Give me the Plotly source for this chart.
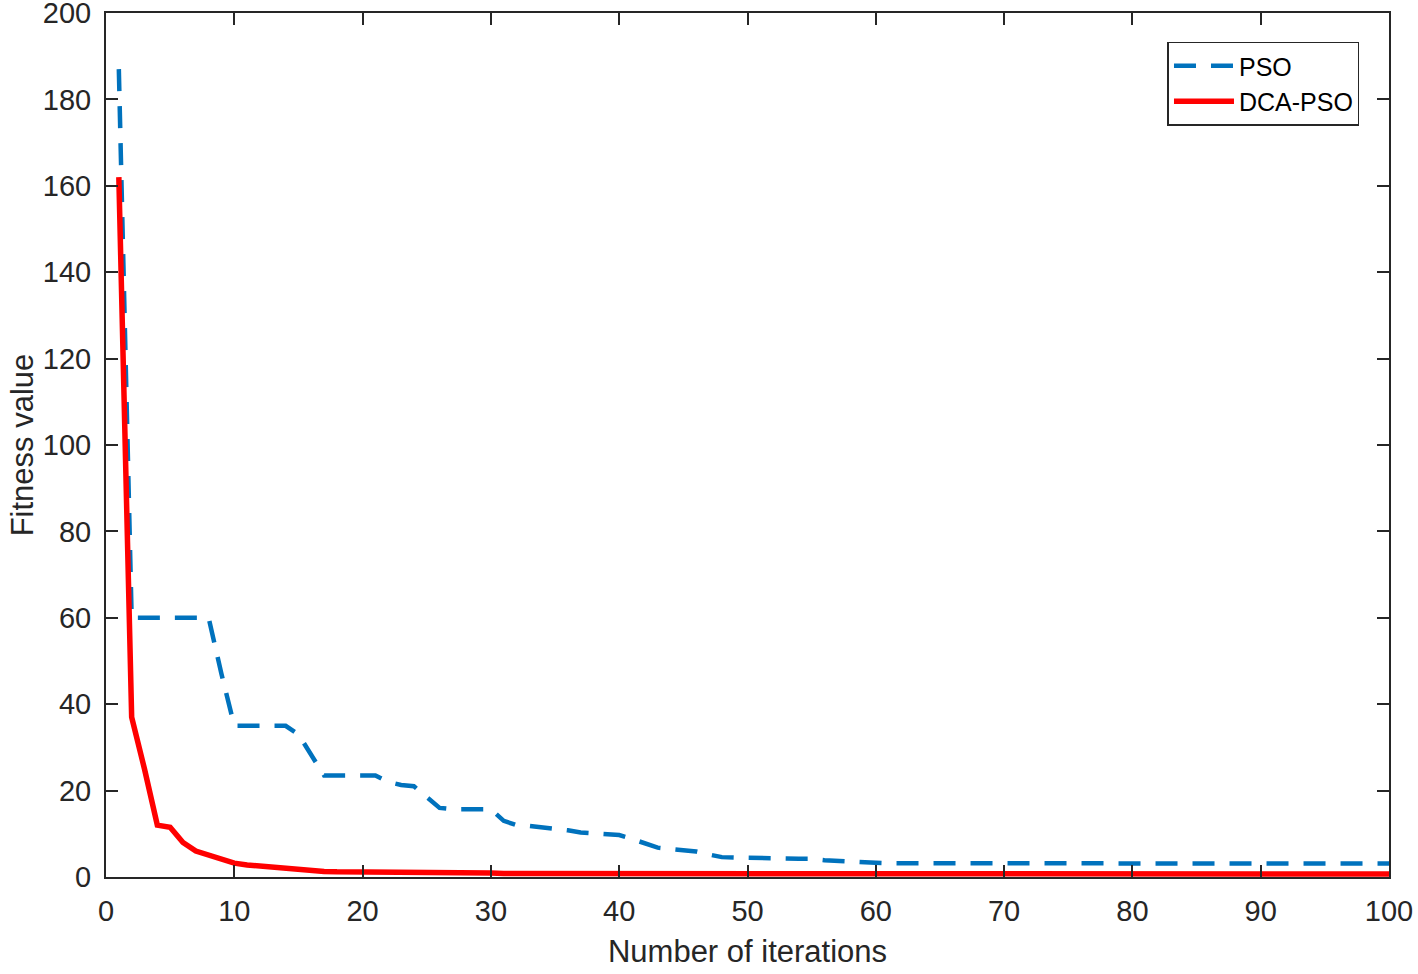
import plotly.graph_objects as go

# convergence curves

iterations = list(range(1, 101))

pso_fitness = [
    187, 60, 60, 60, 60, 60, 60, 60, 47, 35,
    35, 35, 35, 35, 33, 28, 23.5, 23.5, 23.5, 23.5,
    23.5, 22, 21.3, 21, 18.5, 16, 15.7, 15.7, 15.7, 15.7,
    13, 12, 11.8, 11.5, 11.2, 10.8, 10.3, 10.1, 9.9, 9.7,
    8.8, 7.9, 6.8, 6.5, 6.3, 5.9, 5.2, 4.6, 4.5, 4.5,
    4.4, 4.4, 4.3, 4.2, 4.2, 3.9, 3.7, 3.6, 3.4, 3.3,
    3.2, 3.2, 3.2, 3.2, 3.2, 3.2, 3.2, 3.2, 3.2, 3.2,
    3.2, 3.2, 3.2, 3.2, 3.2, 3.1, 3.1, 3.1, 3.1, 3.1,
    3.1, 3.1, 3.1, 3.1, 3.1, 3.1, 3.1, 3.1, 3.1, 3.1,
    3.1, 3.1, 3.1, 3.1, 3.1, 3.1, 3.1, 3.1, 3.1, 3.1,
]

dca_pso_fitness = [
    162, 37, 25, 12, 11.5, 8, 6, 5, 4, 3.2,
    2.8, 2.5, 2.4, 2.2, 1.8, 1.4, 1.3, 1.2, 1.2, 1.1,
    1.1, 1.1, 1.0, 1.0, 1.0, 1.0, 0.9, 0.9, 0.9, 0.9,
] + [0.8] * 40 + [0.7] * 30

y_ticks = list(range(0, 201, 20))
x_ticks = list(range(0, 101, 10))

AXIS_COLOR = "#262626"
FONT = dict(family="Liberation Sans, Arial", size=29, color=AXIS_COLOR)
TITLE_FONT = dict(family="Liberation Sans, Arial", size=31, color=AXIS_COLOR)

fig = go.Figure()

fig.add_trace(go.Scatter(
    x=iterations, y=pso_fitness, mode="lines", name="PSO",
    line=dict(color="#0072BD", width=4.5, dash="22px,15px"),
))
fig.add_trace(go.Scatter(
    x=iterations, y=dca_pso_fitness, mode="lines", name="DCA-PSO",
    line=dict(color="#FF0000", width=5.5),
))

axis_common = dict(
    showgrid=False, zeroline=False, showline=True, linecolor=AXIS_COLOR,
    linewidth=2, mirror="ticks", ticks="inside", ticklen=12, tickwidth=1.5,
    tickcolor=AXIS_COLOR, tickfont=FONT, automargin=False,
    ticklabeloverflow="allow", ticklabelstandoff=7,
)

fig.update_layout(
    width=1418, height=974,
    margin=dict(l=106, r=29, t=13, b=97),
    plot_bgcolor="white", paper_bgcolor="white",
    font=FONT,
    xaxis=dict(range=[0, 100], tickvals=x_ticks,
               title=dict(text="Number of iterations", font=TITLE_FONT, standoff=15),
               **axis_common),
    yaxis=dict(range=[0, 200], tickvals=y_ticks,
               title=dict(text="Fitness value", font=TITLE_FONT, standoff=0),
               **axis_common),
    legend=dict(x=0.977, y=0.967, xanchor="right", yanchor="top",
                bgcolor="white", bordercolor=AXIS_COLOR, borderwidth=1.5,
                font=dict(family="Liberation Sans, Arial", size=25, color="#000"),
                itemwidth=60, tracegroupgap=0),
    showlegend=True,
)

# drop the page's default body margin so the figure sits at the window corner
fig.write_html(
    "out.html",
    config={"displayModeBar": False},
    post_script="document.body.style.margin = '0';",
)
